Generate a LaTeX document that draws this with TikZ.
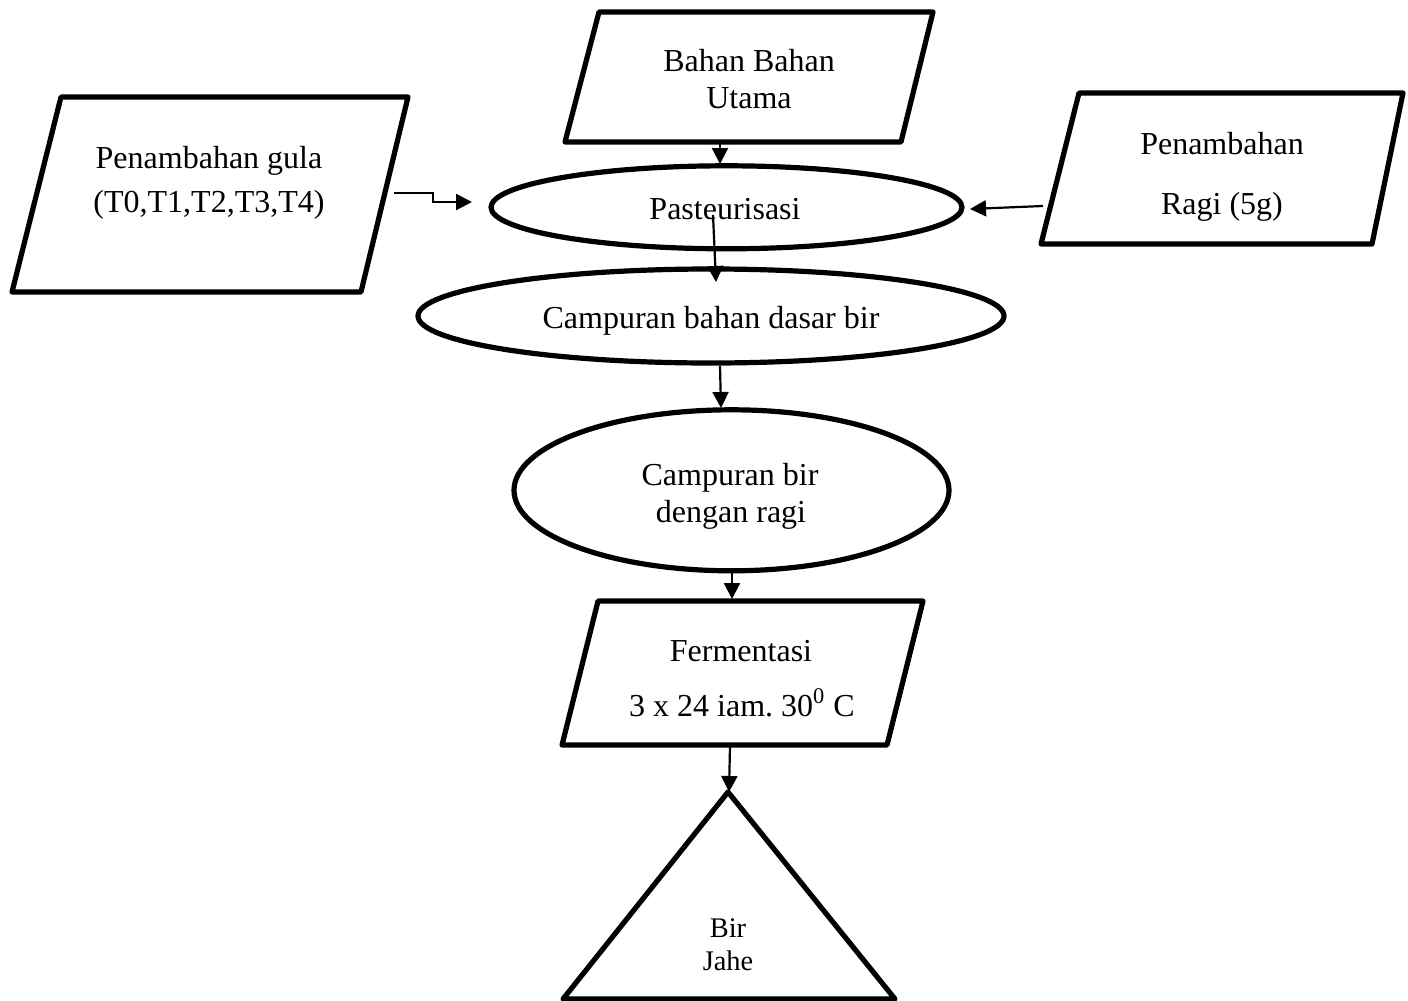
\documentclass[tikz,border=0pt]{standalone}
\usepackage{fontspec}
\setmainfont{Liberation Serif}
\frenchspacing
\usetikzlibrary{arrows.meta,shapes.geometric,calc}
\begin{document}
\begin{tikzpicture}[x=0.5pt,y=-0.5pt,
  shapeline/.style={line width=2.6pt, line join=round},
  oval/.style={ellipse, draw, line width=2.6pt, inner sep=0pt, outer sep=0pt},
  conn/.style={line width=1.1pt, -{Triangle[length=8pt,width=8pt]}},
  txt/.style={anchor=base, inner sep=0pt, font=\fontsize{16pt}{19pt}\selectfont},
  smalltxt/.style={anchor=base, inner sep=0pt, font=\fontsize{14.2pt}{17pt}\selectfont}]
\useasboundingbox (0,0) rectangle (1408,1001);

% parallelograms
\draw[shapeline] (599,12) -- (933,12) -- (901,142) -- (565,142) -- cycle;
\draw[shapeline] (61,97) -- (408,97) -- (361,292) -- (12,292) -- cycle;
\draw[shapeline] (1079,93) -- (1403,93) -- (1372,244) -- (1041,244) -- cycle;
\draw[shapeline] (598,601) -- (923,601) -- (887,745) -- (562,745) -- cycle;
% triangle
\draw[shapeline] (728,792) coordinate (apex) -- (895,999) -- (563,999) -- cycle;

% ellipses
\node[oval, minimum width=235.5pt, minimum height=41.5pt] (past) at (726.5,207.3) {};
\node[oval, minimum width=293pt, minimum height=47pt] (camp) at (711,316) {};
\node[oval, minimum width=217.5pt, minimum height=80.5pt] (campbir) at (731.5,490.3) {};

% texts
\node[txt] (tbahan1) at (749,71) {Bahan Bahan};
\node[txt] (tbahan2) at (749,108) {Utama};
\node[txt] (tgula1) at (209,168) {Penambahan gula};
\node[txt] (tgula2) at (209,212) {(T0,T1,T2,T3,T4)};
\node[txt] (tragi1) at (1222,154) {Penambahan};
\node[txt] (tragi2) at (1222,214) {Ragi (5g)};
\node[txt] (tpast) at (725,219) {Pasteurisasi};
\node[txt] (tcamp) at (711,328) {Campuran bahan dasar bir};
\node[txt] (tcb1) at (730,485) {Campuran bir};
\node[txt] (tcb2) at (731,522) {dengan ragi};
\node[txt] (tferm1) at (741,661) {Fermentasi};
\node[txt] (tferm2) at (742,716) {3 x 24 iam. 30\textsuperscript{0} C};
\node[smalltxt] (tbir1) at (728,937) {Bir};
\node[smalltxt] (tbir2) at (728,970) {Jahe};

% connector end points
\coordinate (a1s) at (720,143);
\coordinate (a1e) at (720,164);
\coordinate (gs) at (394,193);
\coordinate (ge) at (472,202);
\coordinate (rs) at (1043,206);
\coordinate (re) at (970,209);
\coordinate (a2s) at (713,215);
\coordinate (a2e) at (716,282);
\coordinate (a3s) at (720,366);
\coordinate (a3e) at (721,408);
\coordinate (a4s) at (732,573);
\coordinate (a4e) at (732,599);
\coordinate (a5s) at (730,746);
\coordinate (a5e) at (729,792);

% connectors
\draw[conn] (a1s) -- (a1e);
\draw[conn] (gs) -| ($(gs)!.5!(ge)$) |- (ge);
\draw[conn] (rs) -- (re);
\draw[conn] (a2s) -- (a2e);
\draw[conn] (a3s) -- (a3e);
\draw[conn] (a4s) -- (a4e);
\draw[conn] (a5s) -- (a5e);
\end{tikzpicture}
\end{document}
